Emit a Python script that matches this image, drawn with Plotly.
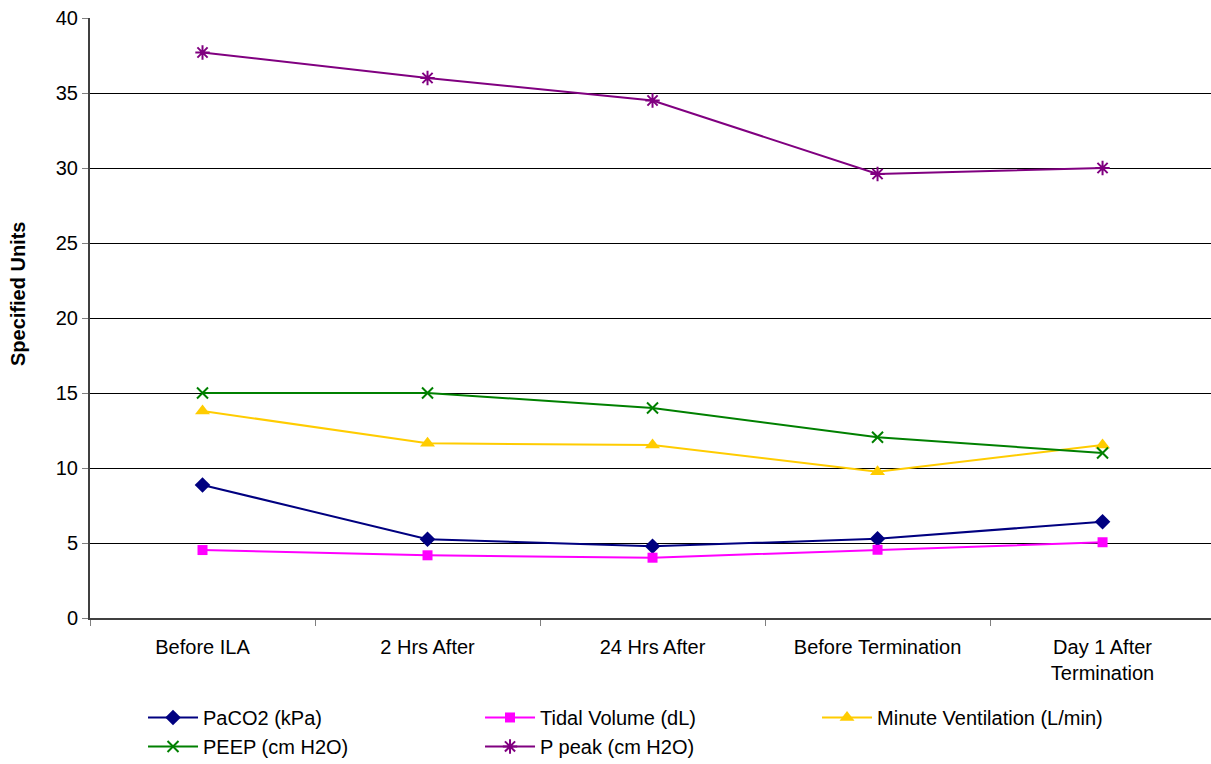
import plotly.graph_objects as go

# Time points along the ILA course
categories = ["Before ILA", "2 Hrs After", "24 Hrs After", "Before Termination",
              "Day 1 After<br>Termination"]

# Measured values per time point
paco2 = [8.87, 5.25, 4.78, 5.28, 6.42]
tidal_volume = [4.53, 4.18, 4.02, 4.55, 5.05]
minute_ventilation = [13.8, 11.65, 11.53, 9.75, 11.53]
peep = [15.0, 15.0, 14.0, 12.05, 11.0]
p_peak = [37.7, 36.0, 34.5, 29.6, 30.0]

y_ticks = [0, 5, 10, 15, 20, 25, 30, 35, 40]

FONT = "Liberation Sans, Arial, sans-serif"

series = [
    ("PaCO2 (kPa)", paco2, "#000080", "diamond", 12, 0),
    ("Tidal Volume (dL)", tidal_volume, "#FF00FF", "square", 10, 0),
    ("Minute Ventilation (L/min)", minute_ventilation, "#FFCC00", "triangle-up", 13, 0),
    ("PEEP (cm H2O)", peep, "#008000", "x-thin", 11, 2),
    ("P peak (cm H2O)", p_peak, "#800080", "asterisk", 12, 2),
]

fig = go.Figure()
for name, values, color, symbol, size, lw in series:
    fig.add_trace(go.Scatter(
        x=categories, y=values, name=name, mode="lines+markers",
        line=dict(color=color, width=2),
        marker=dict(symbol=symbol, size=size, color=color,
                    line=dict(color=color, width=lw)),
    ))

fig.update_layout(
    width=1211, height=764,
    margin=dict(l=90, r=0, t=18, b=146, autoexpand=False),
    paper_bgcolor="white", plot_bgcolor="white",
    font=dict(family=FONT, size=20, color="black"),
    showlegend=True,
    legend=dict(
        orientation="h", x=0.0473, xanchor="left", y=-0.1333, yanchor="top",
        entrywidth=272, entrywidthmode="pixels",
        font=dict(family=FONT, size=20, color="black"),
        tracegroupgap=0, itemwidth=50,
    ),
    annotations=[dict(
        text="<b>Specified Units</b>", textangle=-90,
        xref="paper", yref="paper", x=-0.0642, y=0.54,
        xanchor="center", yanchor="middle", showarrow=False,
        font=dict(family=FONT, size=20, color="black"),
    )],
)

fig.update_xaxes(
    type="category", range=[-0.5, 4.482],
    showline=True, linecolor="#404040", linewidth=2,
    ticks="outside", tickson="boundaries", ticklen=6, tickcolor="#808080",
    showgrid=False, tickfont=dict(family=FONT, size=20), ticklabelstandoff=10,
)
fig.update_yaxes(
    range=[0, 40], tickvals=y_ticks, ticktext=[str(v) for v in y_ticks],
    showline=True, linecolor="#404040", linewidth=2,
    ticks="outside", ticklen=6, tickcolor="#808080",
    showgrid=True, gridcolor="black", gridwidth=1,
    zeroline=False, tickfont=dict(family=FONT, size=20),
)

fig.write_html("out.html")
